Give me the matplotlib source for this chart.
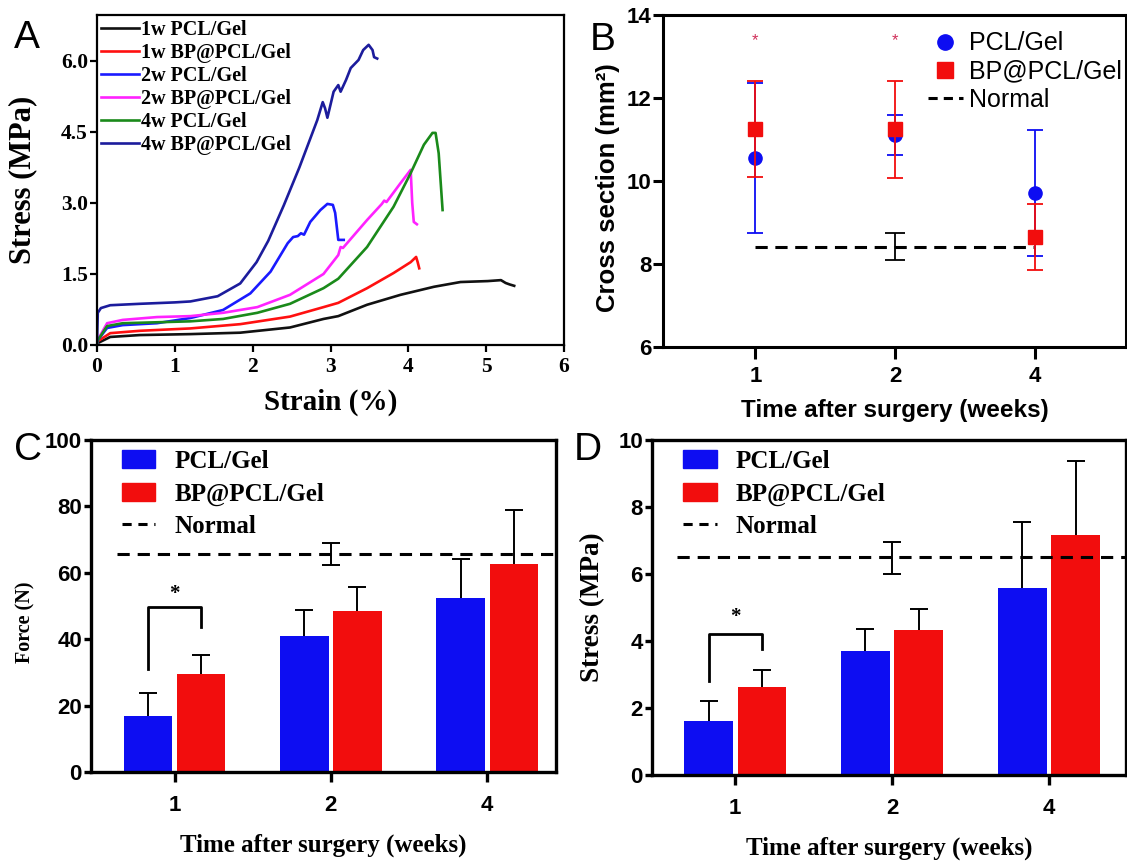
import matplotlib
matplotlib.use("Agg")
import matplotlib.pyplot as plt
import numpy as np
from matplotlib.lines import Line2D
from matplotlib.patches import Patch

# ---------------- data ----------------
# Panel A: stress-strain curves (strain %, stress MPa)
strain_1w_pcl = [0, 0.01, 0.17, 0.55, 1.2, 1.84, 2.48, 2.91, 3.1, 3.47, 3.9, 4.33, 4.67, 5.02, 5.19, 5.25, 5.3, 5.36]
stress_1w_pcl = [0, 0.04, 0.17, 0.21, 0.23, 0.26, 0.37, 0.55, 0.61, 0.85, 1.06, 1.23, 1.33, 1.35, 1.37, 1.31, 1.28, 1.25]

strain_1w_bp = [0, 0.01, 0.17, 0.55, 1.2, 1.84, 2.48, 2.91, 3.1, 3.47, 3.81, 4.03, 4.1, 4.12, 4.14]
stress_1w_bp = [0, 0.08, 0.25, 0.30, 0.35, 0.44, 0.60, 0.80, 0.89, 1.20, 1.52, 1.75, 1.86, 1.75, 1.62]

strain_2w_pcl = [0, 0.01, 0.13, 0.33, 0.77, 1.2, 1.62, 1.97, 2.23, 2.45, 2.52, 2.58, 2.62, 2.66, 2.74, 2.87, 2.96, 3.03, 3.06, 3.1, 3.17]
stress_2w_pcl = [0, 0.10, 0.36, 0.42, 0.46, 0.57, 0.74, 1.09, 1.55, 2.15, 2.28, 2.30, 2.36, 2.33, 2.60, 2.85, 2.98, 2.96, 2.79, 2.22, 2.22]

strain_2w_bp = [0, 0.01, 0.13, 0.33, 0.77, 1.2, 1.62, 2.06, 2.48, 2.91, 3.1, 3.13, 3.16, 3.47, 3.66, 3.69, 3.72, 3.9, 4.03, 4.05, 4.07, 4.11]
stress_2w_bp = [0, 0.11, 0.46, 0.53, 0.59, 0.61, 0.68, 0.80, 1.06, 1.50, 1.90, 2.07, 2.05, 2.64, 2.98, 3.05, 3.02, 3.42, 3.70, 3.00, 2.60, 2.55]

strain_4w_pcl = [0, 0.01, 0.13, 0.33, 0.77, 1.2, 1.62, 2.06, 2.48, 2.91, 3.1, 3.47, 3.81, 4.03, 4.2, 4.31, 4.35, 4.39, 4.44]
stress_4w_pcl = [0, 0.10, 0.40, 0.46, 0.48, 0.50, 0.55, 0.68, 0.87, 1.20, 1.40, 2.07, 2.92, 3.63, 4.23, 4.48, 4.48, 4.05, 2.85]

strain_4w_bp = [0, 0.01, 0.05, 0.17, 0.55, 1.0, 1.2, 1.55, 1.84, 2.05, 2.2, 2.4, 2.6, 2.83, 2.9, 2.93, 2.96, 3.04, 3.1, 3.13, 3.2, 3.26, 3.36, 3.42, 3.49, 3.54, 3.56, 3.6]
stress_4w_bp = [0, 0.68, 0.78, 0.84, 0.87, 0.90, 0.92, 1.03, 1.30, 1.75, 2.20, 2.95, 3.75, 4.75, 5.13, 5.00, 4.80, 5.35, 5.49, 5.35, 5.60, 5.85, 6.02, 6.23, 6.34, 6.23, 6.08, 6.05]

curve_labels = ["1w PCL/Gel", "1w BP@PCL/Gel", "2w PCL/Gel", "2w BP@PCL/Gel", "4w PCL/Gel", "4w BP@PCL/Gel"]
curve_colors = ["#111111", "#ff1010", "#1a1aff", "#ff22ff", "#1a8a1a", "#1c1c9c"]

# Panels B-D
weeks = ["1", "2", "4"]
# B: cross section (mm^2)
cs_pcl = [10.55, 11.10, 9.72]
cs_pcl_err = [1.80, 0.48, 1.52]
cs_bp = [11.25, 11.25, 8.65]
cs_bp_err = [1.15, 1.17, 0.80]
cs_normal = 8.42
cs_normal_err = 0.33
cs_star_y = 13.38

# C: force (N)
force_pcl = [16.8, 41.0, 52.5]
force_pcl_err = [7.0, 7.8, 11.8]
force_bp = [29.5, 48.5, 62.8]
force_bp_err = [5.8, 7.2, 16.0]
force_normal = 65.8
force_normal_err = [3.3, 3.2]  # lower, upper

# D: stress (MPa)
stress_pcl = [1.60, 3.70, 5.57]
stress_pcl_err = [0.62, 0.67, 1.98]
stress_bp = [2.62, 4.32, 7.15]
stress_bp_err = [0.50, 0.63, 2.23]
stress_normal = 6.52
stress_normal_err = [0.52, 0.45]

# ---------------- styling ----------------
W, H = 1127, 863
SERIF = "Liberation Serif"
SANS = "Liberation Sans"
BLUE = "#0d0df2"
RED = "#f20d0d"

fig = plt.figure(figsize=(W / 100, H / 100), dpi=100)


def add_axes_px(left, top, right, bottom):
    return fig.add_axes([left / W, 1 - bottom / H, (right - left) / W, (bottom - top) / H])


def style_axes(ax, lw=2.0):
    for s in ax.spines.values():
        s.set_linewidth(lw)
    ax.tick_params(direction="out", width=lw, length=5, pad=1.5)


# ---------------- Panel A ----------------
axA = add_axes_px(97, 15, 564, 345)
style_axes(axA, 1.6)
curves = [(strain_1w_pcl, stress_1w_pcl), (strain_1w_bp, stress_1w_bp),
          (strain_2w_pcl, stress_2w_pcl), (strain_2w_bp, stress_2w_bp),
          (strain_4w_pcl, stress_4w_pcl), (strain_4w_bp, stress_4w_bp)]
for (xs, ys), lab, col in zip(curves, curve_labels, curve_colors):
    axA.plot(xs, ys, color=col, lw=1.9, label=lab, solid_joinstyle="round")
axA.set_xlim(0, 6)
axA.set_ylim(0, 6.97)
axA.set_xticks(range(0, 7))
axA.set_yticks([0, 1.5, 3.0, 4.5, 6.0])
axA.set_yticklabels(["0.0", "1.5", "3.0", "4.5", "6.0"])
axA.tick_params(axis="x", pad=4)
for t in axA.get_xticklabels() + axA.get_yticklabels():
    t.set_fontfamily(SERIF)
    t.set_fontweight("bold")
    t.set_fontsize(15.5)
axA.set_xlabel("Strain (%)", fontfamily=SERIF, fontweight="bold", fontsize=21, labelpad=8)
axA.set_ylabel("Stress (MPa)", fontfamily=SERIF, fontweight="bold", fontsize=22)
axA.yaxis.set_label_coords(-0.128, 0.5)
axA.legend(loc="upper left", bbox_to_anchor=(0.008, 0.985), frameon=False,
           prop={"family": SERIF, "weight": "bold", "size": 14.5},
           handlelength=1.9, handletextpad=0.1, labelspacing=0.15, borderpad=0, borderaxespad=0)

# ---------------- Panel B ----------------
axB = add_axes_px(663, 15, 1126, 347)
style_axes(axB, 2.2)
axB.tick_params(axis="y", length=7, pad=1.5)
axB.tick_params(axis="x", length=8.5, pad=5)
xB = np.arange(len(weeks))
axB.errorbar(xB, cs_pcl, yerr=cs_pcl_err, fmt="o", color=BLUE, ms=9.5, elinewidth=1.3,
             capsize=6, capthick=1.3, zorder=3)
axB.errorbar(xB, cs_bp, yerr=cs_bp_err, fmt="s", color=RED, ms=9.5, elinewidth=1.3,
             capsize=6, capthick=1.3, zorder=4)
axB.plot([xB[0], xB[-1]], [cs_normal, cs_normal], color="black", lw=2.2, ls=(0, (4, 2.5)), zorder=2)
axB.errorbar([xB[1]], [cs_normal], yerr=cs_normal_err, fmt="none", ecolor="black",
             elinewidth=1.3, capsize=7, capthick=1.3)
for xi in xB[:2]:
    axB.text(xi, cs_star_y, "*", color="#d0305a", fontsize=12, ha="center", va="center",
             fontfamily=SANS)
axB.set_xlim(-0.66, 2.65)
axB.set_ylim(6, 14)
axB.set_yticks([6, 8, 10, 12, 14])
axB.set_xticks(xB)
axB.set_xticklabels(weeks)
for t in axB.get_xticklabels() + axB.get_yticklabels():
    t.set_fontfamily(SANS)
    t.set_fontweight("bold")
    t.set_fontsize(16)
axB.set_xlabel("Time after surgery (weeks)", fontfamily=SANS, fontweight="bold", fontsize=17.5, labelpad=9)
axB.set_ylabel("Cross section (mm²)", fontfamily=SANS, fontweight="bold", fontsize=18.5)
axB.yaxis.set_label_coords(-0.093, 0.48)
hB = [Line2D([], [], marker="o", color=BLUE, ls="none", ms=11),
      Line2D([], [], marker="s", color=RED, ls="none", ms=11),
      Line2D([], [], color="black", lw=2.2, ls=(0, (3, 2)))]
axB.legend(hB, ["PCL/Gel", "BP@PCL/Gel", "Normal"], loc="upper left", bbox_to_anchor=(0.572, 0.951),
           frameon=False, prop={"family": SANS, "size": 18}, handlelength=1.4, handletextpad=0.25,
           labelspacing=0.17, borderpad=0, borderaxespad=0)


# ---------------- Panels C and D ----------------
def bar_panel(ax, pcl, pcl_err, bp, bp_err, normal, normal_err, ylim, yticks,
              ylabel, ylabel_size, ylabel_coords, bracket, star_y, xlim):
    style_axes(ax, 2.4)
    x = np.arange(len(weeks))
    off, bw = 0.17, 0.31
    ax.bar(x - off, pcl, bw, color=BLUE, zorder=2)
    ax.bar(x + off, bp, bw, color=RED, zorder=2)
    ax.errorbar(x - off, pcl, yerr=pcl_err, fmt="none", ecolor="black",
                elinewidth=1.4, capsize=6.5, capthick=1.4, zorder=1)
    ax.errorbar(x + off, bp, yerr=bp_err, fmt="none", ecolor="black",
                elinewidth=1.4, capsize=6.5, capthick=1.4, zorder=1)
    ax.plot([-0.37, xlim[1]], [normal, normal], color="black", lw=2.2, ls=(0, (4, 2.6)), zorder=3)
    ax.errorbar([x[1]], [normal], yerr=[[normal_err[0]], [normal_err[1]]], fmt="none",
                ecolor="black", elinewidth=1.4, capsize=6.5, capthick=1.4, zorder=3)
    lo_l, lo_r, top = bracket
    ax.plot([x[0] - off, x[0] - off, x[0] + off, x[0] + off], [lo_l, top, top, lo_r],
            color="black", lw=2.0, zorder=3)
    ax.text(x[0], star_y, "*", fontfamily=SERIF, fontweight="bold", fontsize=15,
            ha="center", va="center")
    ax.set_xlim(*xlim)
    ax.set_ylim(*ylim)
    ax.set_yticks(yticks)
    ax.set_xticks(x)
    ax.set_xticklabels(weeks)
    ax.tick_params(axis="x", length=7.5, pad=9)
    for t in ax.get_xticklabels() + ax.get_yticklabels():
        t.set_fontfamily(SANS)
        t.set_fontweight("bold")
        t.set_fontsize(16)
    ax.set_xlabel("Time after surgery (weeks)", fontfamily=SERIF, fontweight="bold", fontsize=18, labelpad=13)
    ax.set_ylabel(ylabel, fontfamily=SERIF, fontweight="bold", fontsize=ylabel_size)
    ax.yaxis.set_label_coords(*ylabel_coords)
    handles = [Patch(color=BLUE), Patch(color=RED), Line2D([], [], color="black", lw=2.2, ls=(0, (3, 2.2)))]
    ax.legend(handles, ["PCL/Gel", "BP@PCL/Gel", "Normal"], loc="upper left",
              bbox_to_anchor=(0.066, 0.97), frameon=False,
              prop={"family": SERIF, "weight": "bold", "size": 18},
              handlelength=1.35, handleheight=0.75, handletextpad=0.75, labelspacing=0.38,
              borderpad=0, borderaxespad=0)


axC = add_axes_px(91, 440, 556, 772)
bar_panel(axC, force_pcl, force_pcl_err, force_bp, force_bp_err, force_normal, force_normal_err,
          (0, 100), [0, 20, 40, 60, 80, 100], "Force (N)", 14.5, (-0.12, 0.45),
          (30.9, 43.8, 49.8), 53.5, (-0.535, 2.44))

axD = add_axes_px(652, 440, 1126, 775)
bar_panel(axD, stress_pcl, stress_pcl_err, stress_bp, stress_bp_err, stress_normal, stress_normal_err,
          (0, 10), [0, 2, 4, 6, 8, 10], "Stress (MPa)", 19.5, (-0.098, 0.5),
          (2.8, 3.76, 4.2), 4.72, (-0.53, 2.49))

# ---------------- panel letters ----------------
for lab, px, py in [("A", 14, 48), ("B", 590, 50), ("C", 14, 460), ("D", 574, 460)]:
    fig.text(px / W, 1 - py / H, lab, fontfamily=SANS, fontsize=28, ha="left", va="baseline")

fig.savefig("out.png", dpi=100)
